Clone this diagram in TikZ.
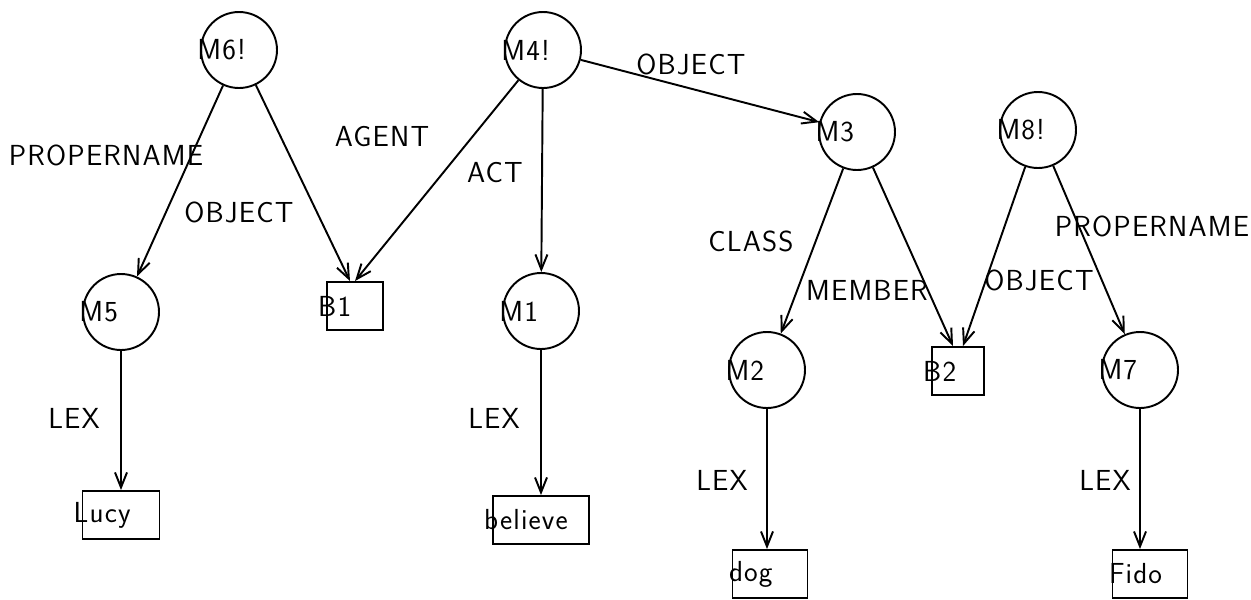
\documentclass[tikz,border=0pt]{standalone}
\usepackage{fontspec}
\setsansfont{Latin Modern Sans}[LetterSpace=4]
\usetikzlibrary{arrows.meta}

\begin{document}
\begin{tikzpicture}[x=0.02cm, y=-0.02cm, ->, >={Straight Barb[length=3mm,width=2.4mm]},
                    line width=1.1pt,
                    mol/.style={circle, draw, minimum size=1.52cm, inner sep=0pt},
                    base/.style={rectangle, draw, inner sep=0pt, minimum height=0.96cm},
                    nm/.style={label={[anchor=west, inner sep=0pt, xshift=-2pt]west:#1}},
                    bnm/.style={label={[anchor=west, inner sep=0pt, xshift=-5pt]west:#1}}]
\tikzstyle{every node}=[font=\sffamily\fontsize{16.5}{19}\selectfont]
\useasboundingbox (0,0) rectangle (1251,599);

% molecular nodes
\node [mol, nm=M6!] (m6) at (239,50) {};
\node [mol, nm=M4!] (m4) at (543,50) {};
\node [mol, nm=M3] (m3) at (857,132) {};
\node [mol, nm=M8!] (m8) at (1038,130) {};
\node [mol, nm=M5] (m5) at (121,312) {};
\node [mol, nm=M1] (m1) at (541,311) {};
\node [mol, nm=M2] (m2) at (767,370) {};
\node [mol, nm=M7] (m7) at (1140,370) {};

% base nodes
\node [base, minimum width=1.12cm, bnm=B1] (b1) at (355,306) {};
\node [base, minimum width=1.04cm, bnm=B2] (b2) at (958,371) {};
\node [base, minimum width=1.54cm, bnm=Lucy] (lucy) at (121,515) {};
\node [base, minimum width=1.92cm, bnm=believe] (believe) at (541,520) {};
\node [base, minimum width=1.5cm, nm=dog] (dog) at (770,574) {};
\node [base, minimum width=1.5cm, nm=Fido] (fido) at (1150,574) {};

% arcs
\path (m6) edge (m5);
\path (m6) edge ([xshift=-0.1cm]b1.north);
\path (m4) edge (b1.north);
\path (m4) edge (m1);
\path (m4) edge (m3);
\path (m3) edge (m2);
\path (m3) edge ([xshift=-0.1cm]b2.north);
\path (m8) edge ([xshift=0.1cm]b2.north);
\path (m8) edge (m7);
\path (m5) edge (lucy);
\path (m1) edge (believe);
\path (m2) edge (m2 |- dog.north);
\path (m7) edge (m7 |- fido.north);

% arc labels
\node (lpn6) at (106,155) {PROPERNAME};
\node (lob6) at (239,212) {OBJECT};
\node (lag) at (382,137) {AGENT};
\node (lact) at (495,173) {ACT};
\node (lob4) at (691,64) {OBJECT};
\node (lcl) at (751,241) {CLASS};
\node (lme) at (867,290) {MEMBER};
\node (lob8) at (1039,280) {OBJECT};
\node (lpn8) at (1152,226) {PROPERNAME};
\node (llex5) at (74,418) {LEX};
\node (llex1) at (494,418) {LEX};
\node (llex2) at (722,480) {LEX};
\node (llex7) at (1105,480) {LEX};
\end{tikzpicture}
\end{document}
